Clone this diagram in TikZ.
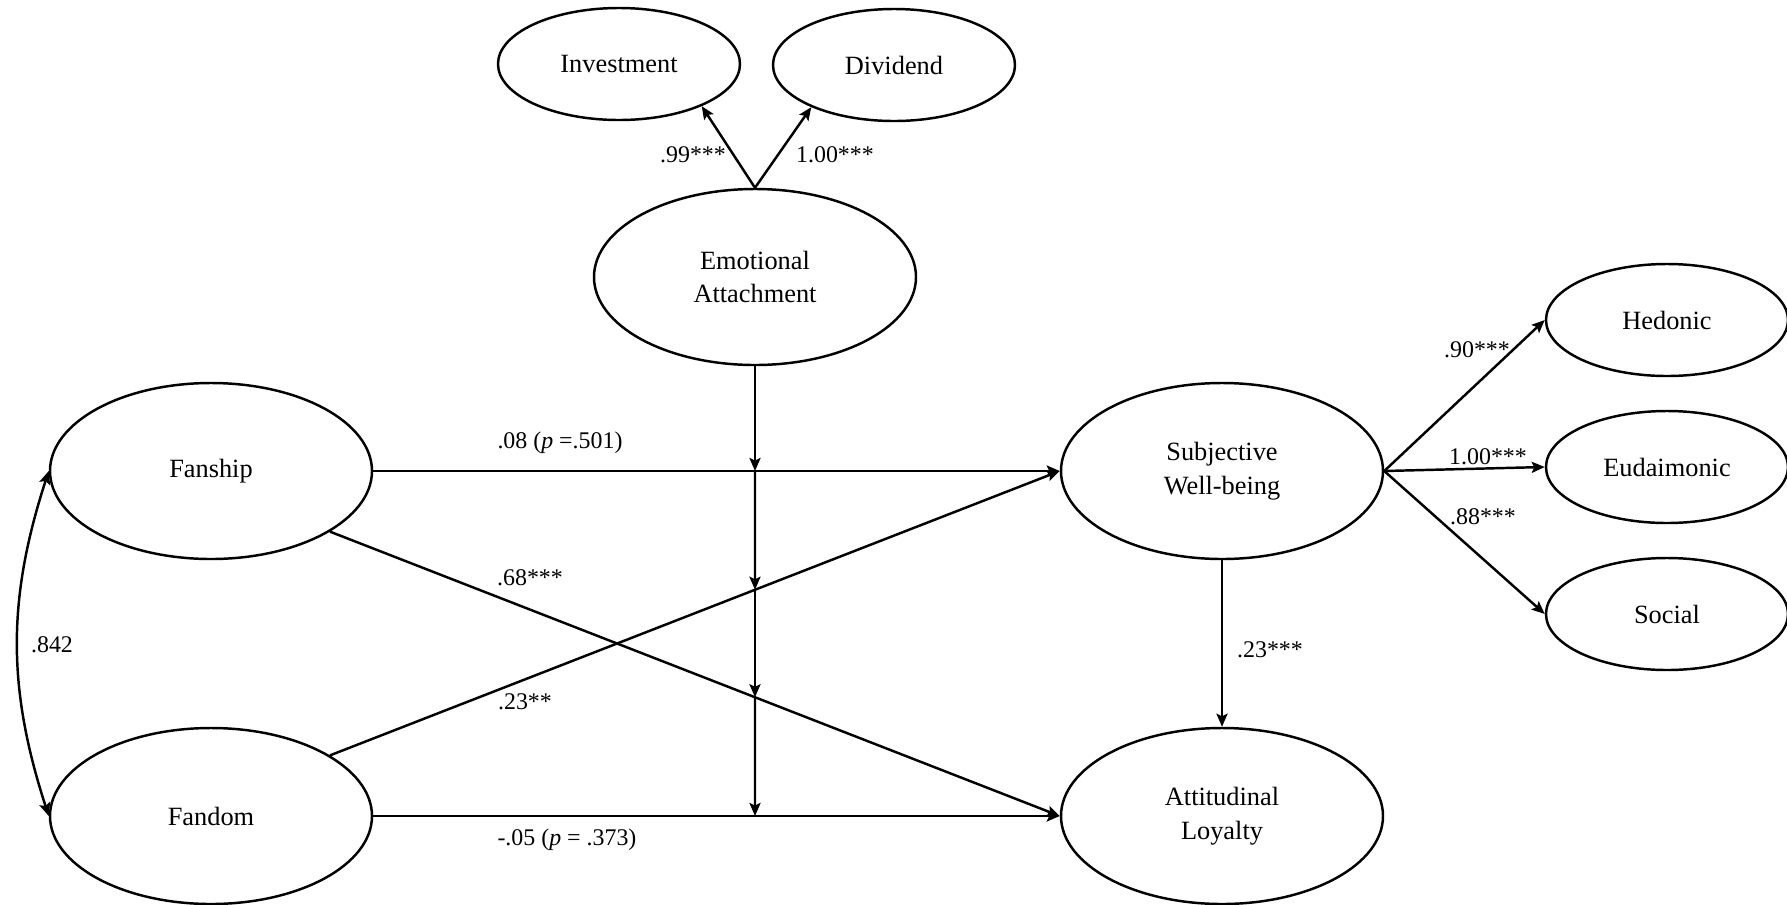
\documentclass[tikz,border=0pt]{standalone}
\usepackage{fontspec}
\setmainfont{Liberation Serif}
\usetikzlibrary{shapes.geometric,arrows.meta}

\begin{document}
\begin{tikzpicture}[x=0.2mm,y=-0.2mm,line width=1.4pt,
    big/.style={ellipse,draw,minimum width=64.4mm,minimum height=35.2mm,align=center,inner sep=0pt,font=\fontsize{15}{19}\selectfont},
    small/.style={ellipse,draw,minimum width=48.4mm,minimum height=22.4mm,inner sep=0pt,font=\fontsize{15}{19}\selectfont},
    coef/.style={font=\fontsize{13.6}{16}\selectfont,inner sep=1pt},
    link/.style={-{Stealth[length=2.6mm,width=2.2mm,inset=0.5mm]}}]
\useasboundingbox (0,0) rectangle (1787,904);

% latent variables
\node[big] (emo) at (755,277) {Emotional\\Attachment};
\node[big] (fanship) at (211,471) {Fanship};
\node[big] (fandom) at (211,816) {Fandom};
\node[big] (swb) at (1222,471) {Subjective\\Well-being};
\node[big] (loyal) at (1222,816) {Attitudinal\\Loyalty};

% first-order factors
\node[small] (invest) at (619,64) {Investment};
\node[small] (divid) at (894,65) {Dividend};
\node[small] (hedon) at (1667,320) {Hedonic};
\node[small] (eudai) at (1667,467) {Eudaimonic};
\node[small] (social) at (1667,614) {Social};

% loadings
\draw[link] (emo.north) -- (invest.333);
\draw[link] (emo.north) -- (divid.207);
\draw[link] (swb.east) -- (hedon.west);
\draw[link] (swb.east) -- (eudai.west);
\draw[link] (swb.east) -- (social.west);

% paths
\draw[link] (fanship.east) -- (swb.west);
\draw[link] (fanship.333) -- (loyal.west);
\draw[link] (fandom.27) -- (swb.west);
\draw[link] (fandom.east) -- (loyal.west);
\draw[link] (swb.south) -- (loyal.north);
\draw[{Stealth[length=2.6mm,width=2.2mm,inset=0.5mm]}-{Stealth[length=2.6mm,width=2.2mm,inset=0.5mm]}]
    (fanship.west) to[bend right=18] (fandom.west);

% moderation
\coordinate (mbot) at (emo.south |- loyal.west);
\coordinate (m1) at (emo.south |- fanship.east);
\coordinate (m2) at (intersection of emo.south--mbot and fandom.27--swb.west);
\coordinate (m3) at (intersection of emo.south--mbot and fanship.333--loyal.west);
\draw[link] (emo.south) -- (m1);
\draw[link] (m1) -- (m2);
\draw[link] (m2) -- (m3);
\draw[link] (m3) -- (mbot);

% coefficients
\node[coef] (c99) at (693,155) {.99***};
\node[coef] (c100a) at (835,155) {1.00***};
\node[coef] (c08) at (560,443) {.08 (\textit{p} =.501)};
\node[coef] (c68) at (530,578) {.68***};
\node[coef] (c23b) at (525,702) {.23**};
\node[coef] (c05) at (567,840) {-.05 (\textit{p} = .373)};
\node[coef] (c842) at (52,645) {.842};
\node[coef] (c23a) at (1270,650) {.23***};
\node[coef] (c90) at (1477,350) {.90***};
\node[coef] (c100b) at (1488,457) {1.00***};
\node[coef] (c88) at (1483,517) {.88***};
\end{tikzpicture}
\end{document}
